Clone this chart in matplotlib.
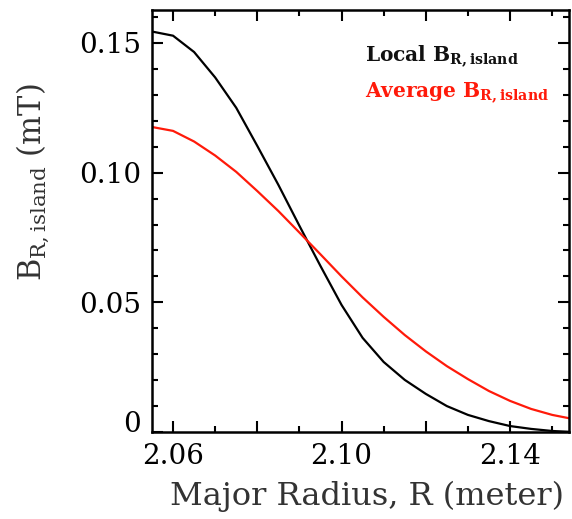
import matplotlib
matplotlib.use('Agg')
import matplotlib.pyplot as plt
from matplotlib.ticker import MultipleLocator
from matplotlib.transforms import ScaledTranslation

plt.rcParams['font.family'] = 'DejaVu Serif'
plt.rcParams['mathtext.fontset'] = 'dejavuserif'

# major radius grid (m)
R = [2.055, 2.060, 2.065, 2.070, 2.075, 2.080, 2.085, 2.090, 2.095, 2.100, 2.105,
     2.110, 2.115, 2.120, 2.125, 2.130, 2.135, 2.140, 2.145, 2.150, 2.155]

# local island field (mT)
b_local = [0.1544, 0.1528, 0.1465, 0.1367, 0.1250, 0.1103, 0.0953, 0.0795, 0.0640,
           0.0490, 0.0363, 0.0270, 0.0201, 0.0147, 0.0100, 0.0066, 0.0042, 0.0023,
           0.0012, 0.0004, 0.0000]

# averaged island field (mT)
b_avg = [0.1176, 0.1161, 0.1120, 0.1066, 0.1003, 0.0929, 0.0852, 0.0769, 0.0685,
         0.0600, 0.0519, 0.0444, 0.0374, 0.0311, 0.0254, 0.0204, 0.0158, 0.0120,
         0.0089, 0.0066, 0.0050]

fig = plt.figure(figsize=(5.72, 5.19), dpi=100)
ax = fig.add_axes([0.2657, 0.1676, 0.7291, 0.8131])

ax.plot(R, b_local, color='black', lw=1.6)
ax.plot(R, b_avg, color='#ff1a0a', lw=1.6)

ax.set_xlim(2.055, 2.154)
ax.set_ylim(0, 0.1627)

ax.set_xticks([2.06, 2.08, 2.10, 2.12, 2.14])
ax.set_xticklabels(['2.06', '', '2.10', '', '2.14'])
ax.xaxis.set_minor_locator(MultipleLocator(0.01))

ax.set_yticks([0, 0.05, 0.10, 0.15])
ax.set_yticklabels(['0', '0.05', '0.10', '0.15'])
ax.yaxis.set_minor_locator(MultipleLocator(0.01))

ax.tick_params(which='both', direction='in', top=True, right=True,
               width=1.5, labelsize=20, colors='black')
ax.tick_params(which='major', length=8, pad=8)
ax.tick_params(which='minor', length=4)
for s in ax.spines.values():
    s.set_linewidth(1.8)

# nudge the zero label up off the corner
zero_lbl = ax.get_yticklabels()[0]
zero_lbl.set_transform(zero_lbl.get_transform() + ScaledTranslation(0, 11 / 100, fig.dpi_scale_trans))

ax.set_xlabel('Major Radius, R (meter)', fontsize=23, color='#333333')
ax.xaxis.set_label_coords(0.516, -0.115)
ax.set_ylabel(r'B$_{\mathrm{R,island}}$ (mT)', fontsize=22, color='#333333')
ax.yaxis.set_label_coords(-0.24, 0.592)

ax.text(0.511, 0.889, r'Local B$_{\mathbf{R,island}}$', transform=ax.transAxes,
        fontsize=14.5, fontweight='bold', color='#111111', va='center')
ax.text(0.511, 0.803, r'Average B$_{\mathbf{R,island}}$', transform=ax.transAxes,
        fontsize=14.5, fontweight='bold', color='#ff1a0a', va='center')

fig.savefig('out.png', dpi=100)
